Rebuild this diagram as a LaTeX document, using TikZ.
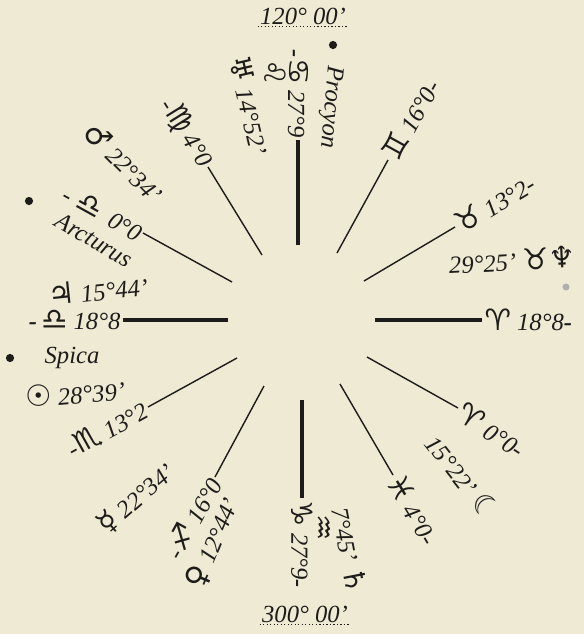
\documentclass[tikz,border=0pt]{standalone}
\usepackage{fontspec}
\setmainfont{Liberation Serif}
\newfontfamily\astro[Scale=1.2]{DejaVu Sans}
\usetikzlibrary{positioning}
\definecolor{paper}{RGB}{238,234,211}
\definecolor{ink}{RGB}{30,28,26}
\newcommand{\sg}[1]{{\astro #1}}

\begin{document}
\begin{tikzpicture}[
  x=0.03cm, y=-0.03cm,
  font=\fontsize{21}{24}\selectfont\itshape,
  spoke/.style={draw=ink, line width=1.2pt},
  axisline/.style={draw=ink, line width=3.4pt},
  lbl/.style={text=ink, inner sep=2pt},
  stardot/.style={circle, fill=ink, inner sep=0pt, minimum size=7pt},
  dotrule/.style={draw=ink, dotted, line width=1pt}
]
\fill[paper] (0,0) rectangle (584,634);
\useasboundingbox (0,0) rectangle (584,634);

% angles of the chart
\coordinate (mci) at (298,245); \coordinate (mco) at (298,140);
\coordinate (ici) at (302,400); \coordinate (ico) at (302,498);
\coordinate (asi) at (228,320); \coordinate (aso) at (123,320);
\coordinate (dsi) at (375,320); \coordinate (dso) at (482,320);
\draw[axisline] (mci) -- (mco);
\draw[axisline] (ici) -- (ico);
\draw[axisline] (asi) -- (aso);
\draw[axisline] (dsi) -- (dso);
\node[lbl, rotate=-90, anchor=east] (mc) at (mco) {\textbf{-}\sg{♋} 27°9};
\node[lbl, rotate=-90, anchor=west] (ic) at (ico) {\sg{♑} 27°9\textbf{-}};
\node[lbl, anchor=east] (asc) at (aso) {\textbf{-}\,\sg{♎} 18°8};
\node[lbl, anchor=west] (dsc) at (dso) {\sg{♈} 18°8\textbf{-}};

% other cusps
\coordinate (h11i) at (262,255); \coordinate (h11o) at (208,167);
\coordinate (h12i) at (232,282); \coordinate (h12o) at (143,233);
\coordinate (h9i) at (337,253);  \coordinate (h9o) at (388,160);
\coordinate (h8i) at (364,281);  \coordinate (h8o) at (455,227);
\coordinate (h6i) at (367,357);  \coordinate (h6o) at (458,408);
\coordinate (h5i) at (340,384);  \coordinate (h5o) at (393,475);
\coordinate (h2i) at (237,358);  \coordinate (h2o) at (148,407);
\coordinate (h3i) at (264,386);  \coordinate (h3o) at (215,477);
\draw[spoke] (h11i) -- (h11o);
\draw[spoke] (h12i) -- (h12o);
\draw[spoke] (h9i) -- (h9o);
\draw[spoke] (h8i) -- (h8o);
\draw[spoke] (h6i) -- (h6o);
\draw[spoke] (h5i) -- (h5o);
\draw[spoke] (h2i) -- (h2o);
\draw[spoke] (h3i) -- (h3o);
\node[lbl, rotate=-58, anchor=east] (h11) at (h11o) {-\sg{♍} 4°0};
\node[lbl, rotate=-29, anchor=east] (h12) at ([yshift=-2]h12o) {-\;\sg{♎}\, 0°0};
\node[lbl, rotate=61, anchor=west] (h9) at (h9o) {\sg{♊} 16°0-};
\node[lbl, rotate=31, anchor=west] (h8) at (h8o) {\sg{♉} 13°2-};
\node[lbl, rotate=-33, anchor=west] (h6) at (h6o) {\sg{♈} 0°0-};
\node[lbl, rotate=-59, anchor=west] (h5) at (h5o) {\sg{♓} 4°0-};
\node[lbl, rotate=29, anchor=east] (h2) at (h2o) {-\sg{♏} 13°2};
\node[lbl, rotate=61, anchor=east] (h3) at (h3o) {-\sg{♐} 16°0};

% meridian degrees
\node[lbl] (top) at (303,16) {120° 00'};
\draw[dotrule] (top.south west) -- (top.south east);
\node[lbl] (bot) at (305,614) {300° 00'};
\draw[dotrule] (bot.south west) -- (bot.south east);

% planets
\node[lbl, rotate=-77] (ura) at (250,105) {\sg{♅} 14°52'};
\node[lbl, rotate=-90] (leo) at (275,73) {\sg{♌}};
\node[lbl, rotate=-45] (mar) at (124,162) {\sg{♂} 22°34'};
\node[lbl, rotate=6] (jup) at (98,290) {\sg{♃} 15°44'};
\node[lbl, rotate=5] (sun) at (75,393) {\sg{☉} 28°39'};
\node[lbl, rotate=41] (mer) at (136,498) {\sg{☿} 22°34'};
\node[lbl, rotate=67] (ven) at (213,543) {\sg{♀} 12°44'};
\node[lbl, rotate=-90] (aqr) at (322,528) {\sg{♒}};
\node[lbl, rotate=-79] (sat) at (350,550) {7°45' \sg{♄}};
\node[lbl, rotate=-52] (moo) at (463,477) {15°22' \sg{☾}};
\node[lbl, rotate=3] (nep) at (512,260) {29°25' \sg{♉}\sg{♆}};
\node[circle, fill=ink!35, inner sep=0pt, minimum size=6pt] (nepdot) at (566,287) {};

% fixed stars
\node[stardot] (prodot) at (333,45) {};
\node[lbl, rotate=-95] (pro) at (330,107) {Procyon};
\node[stardot] (arcdot) at (29,201) {};
\node[lbl, rotate=-30] (arc) at (94,240) {Arcturus};
\node[stardot] (spidot) at (10,358) {};
\node[lbl] (spi) at (72,358) {Spica};
\end{tikzpicture}
\end{document}
